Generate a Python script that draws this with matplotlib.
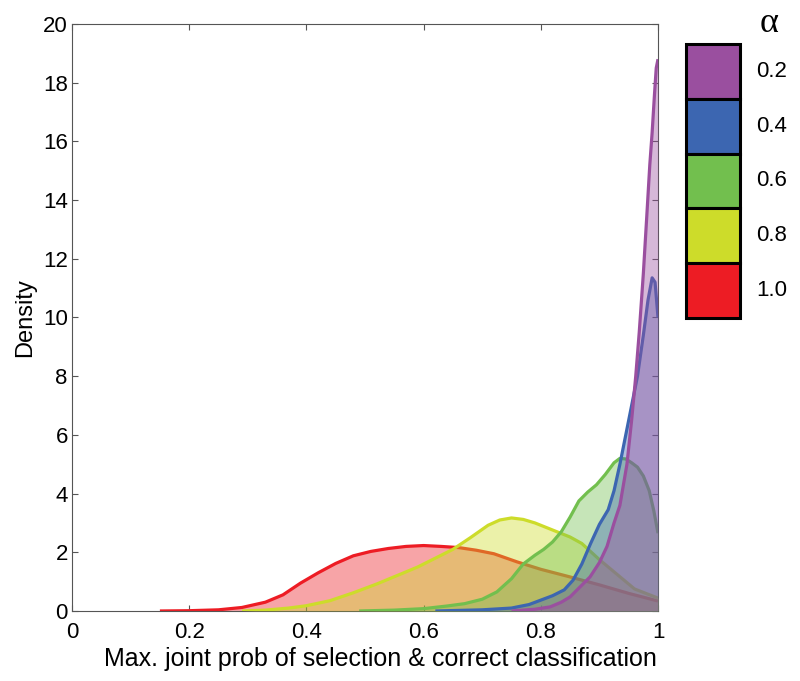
import matplotlib.pyplot as plt
from matplotlib.patches import Rectangle

# --- data ---
alphas = ["0.2", "0.4", "0.6", "0.8", "1.0"]
colores = ["#9a4f9f", "#3c66b1", "#72bf4e", "#cddc2a", "#ed1c24"]

x_rojo = [0.15, 0.2, 0.25, 0.29, 0.33, 0.36, 0.39, 0.42, 0.45, 0.48, 0.51, 0.54,
          0.57, 0.60, 0.63, 0.66, 0.69, 0.72, 0.76, 0.80, 0.85, 0.90, 0.95, 1.0]
y_rojo = [0, 0.01, 0.04, 0.12, 0.3, 0.55, 0.95, 1.3, 1.62, 1.88, 2.03, 2.13,
          2.2, 2.23, 2.2, 2.16, 2.07, 1.95, 1.67, 1.42, 1.16, 0.89, 0.6, 0.34]

x_amarillo = [0.29, 0.33, 0.37, 0.40, 0.44, 0.48, 0.52, 0.56, 0.59, 0.62, 0.65, 0.68,
              0.71, 0.73, 0.75, 0.77, 0.79, 0.81, 0.83, 0.85, 0.87, 0.90, 0.93, 0.96, 1.0]
y_amarillo = [0, 0.03, 0.1, 0.18, 0.35, 0.62, 0.92, 1.25, 1.5, 1.8, 2.1, 2.5,
              2.92, 3.1, 3.17, 3.12, 3.0, 2.84, 2.68, 2.52, 2.3, 1.75, 1.25, 0.75, 0.44]

x_verde = [0.49, 0.55, 0.60, 0.64, 0.67, 0.70, 0.725, 0.75, 0.77, 0.79, 0.805, 0.82, 0.835,
           0.85, 0.865, 0.88, 0.895, 0.91, 0.925, 0.935, 0.945, 0.955, 0.965, 0.975,
           0.985, 0.993, 1.0]
y_verde = [0, 0.03, 0.08, 0.17, 0.25, 0.4, 0.65, 1.1, 1.6, 1.9, 2.1, 2.35, 2.7,
           3.2, 3.75, 4.05, 4.3, 4.65, 5.05, 5.2, 5.18, 5.05, 4.9, 4.6,
           4.1, 3.4, 2.65]

x_azul = [0.62, 0.70, 0.75, 0.78, 0.80, 0.82, 0.84, 0.855, 0.87, 0.885, 0.90, 0.915,
          0.925, 0.935, 0.945, 0.955, 0.965, 0.975, 0.983, 0.99, 0.995, 1.0]
y_azul = [0, 0.04, 0.1, 0.22, 0.37, 0.52, 0.72, 1.05, 1.6, 2.3, 2.95, 3.45,
          4.1, 5.0, 6.0, 7.0, 8.0, 9.4, 10.6, 11.35, 11.2, 10.0]

x_morado = [0.75, 0.79, 0.816, 0.835, 0.85, 0.867, 0.884, 0.90, 0.913, 0.925, 0.935,
            0.947, 0.955, 0.962, 0.968, 0.975, 0.981, 0.986, 0.99, 0.994, 0.997, 1.0]
y_morado = [0, 0.06, 0.14, 0.3, 0.48, 0.82, 1.16, 1.65, 2.2, 3.0, 3.6,
            5.0, 6.5, 8.0, 9.5, 11.5, 13.5, 15.2, 16.3, 17.6, 18.5, 18.8]

# orden de dibujo: rojo abajo, morado arriba
series = [
    (x_rojo, y_rojo, colores[4]),
    (x_amarillo, y_amarillo, colores[3]),
    (x_verde, y_verde, colores[2]),
    (x_azul, y_azul, colores[1]),
    (x_morado, y_morado, colores[0]),
]

plt.rcParams['font.family'] = ['Liberation Sans', 'DejaVu Sans']

fig = plt.figure(figsize=(8, 6.81), dpi=100)
ax = fig.add_axes([0.09, 0.1028, 0.7325, 0.862])

z = 1
for xs, ys, c in series:
    ax.fill_between(xs, 0, ys, color=c, alpha=0.4, linewidth=0, zorder=z)
    ax.plot(xs, ys, color=c, linewidth=2.3, zorder=z + 1, solid_capstyle='butt')
    z += 2

ax.set_xlim(0, 1)
ax.set_ylim(0, 20)
ax.set_xticks([0, 0.2, 0.4, 0.6, 0.8, 1.0])
ax.set_xticklabels(["0", "0.2", "0.4", "0.6", "0.8", "1"])
ax.set_yticks(range(0, 21, 2))
ax.tick_params(direction='in', top=True, right=True, labelsize=16,
               length=4, width=0.8, color='#555555')
ax.tick_params(axis='x', pad=8)
ax.tick_params(axis='y', pad=3)
for s in ax.spines.values():
    s.set_color('#555555')
    s.set_linewidth(0.8)
ax.set_xlabel("Max. joint prob of selection & correct classification", fontsize=18)
ax.xaxis.set_label_coords(0.526, -0.062)
ax.set_ylabel("Density", fontsize=17, labelpad=5)

# leyenda manual
lax = fig.add_axes([686 / 800, 1 - 318 / 681, 54 / 800, 274 / 681])
lax.set_xlim(0, 1)
lax.set_ylim(0, 5)
lax.axis('off')
for i, (lab, c) in enumerate(zip(alphas, colores)):
    yb = 4 - i
    lax.add_patch(Rectangle((0, yb), 1, 1, facecolor=c, edgecolor='black',
                            linewidth=2.2, clip_on=False))
    lax.text(1.3, yb + 0.5, lab, fontsize=16, va='center', ha='left')
fig.text(769 / 800, 1 - 24 / 681, "α", fontsize=26, family='Liberation Serif',
         va='center', ha='center')

fig.savefig("out.png", dpi=100)
